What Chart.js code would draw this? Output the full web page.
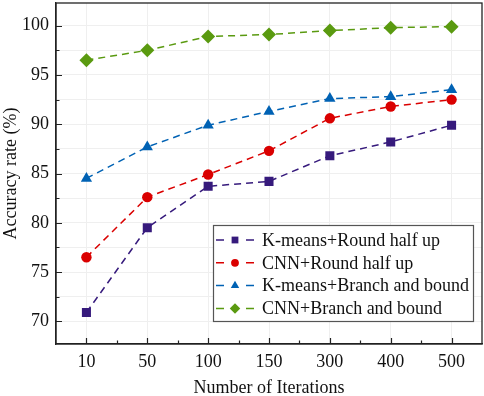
<!DOCTYPE html>
<html>
<head>
<meta charset="utf-8">
<script src="https://cdn.jsdelivr.net/npm/chart.js@4"></script>
<style>
  html, body { margin: 0; padding: 0; background: #fff; }
  #wrap { width: 484px; height: 396px; }
</style>
</head>
<body>
<div id="wrap"><canvas id="accuracyChart"></canvas></div>
<script>
// Data
const iterations = ['10', '50', '100', '150', '300', '400', '500'];
const kmeansRound = [70.9, 79.5, 83.7, 84.2, 86.8, 88.2, 89.9];
const cnnRound = [76.5, 82.6, 84.9, 87.3, 90.6, 91.8, 92.5];
const kmeansBranch = [84.5, 87.7, 89.9, 91.3, 92.6, 92.8, 93.5];
const cnnBranch = [96.5, 97.5, 98.9, 99.1, 99.5, 99.8, 99.9];
const yMajorTicks = [70, 75, 80, 85, 90, 95, 100];
const yMinorTicks = [72.5, 77.5, 82.5, 87.5, 92.5, 97.5];

const serif = 'Liberation Serif, "Times New Roman", serif';

function series(label, data, color, pointStyle, radius) {
    return {
        label: label,
        data: data,
        borderColor: color,
        backgroundColor: color,
        borderWidth: 1.5,
        borderDash: [7, 5],
        pointStyle: pointStyle,
        pointRadius: radius,
        pointHoverRadius: radius,
        pointBorderWidth: 0,
        tension: 0
    };
}

// Inward ticks, frame and boxed legend
const frameAndLegend = {
    id: 'frameAndLegend',
    afterDraw(chart) {
        const ctx = chart.ctx;
        const area = chart.chartArea;
        const x = chart.scales.x;
        const y = chart.scales.y;
        ctx.save();
        ctx.strokeStyle = '#222';
        ctx.lineWidth = 1.2;
        ctx.beginPath();
        yMajorTicks.forEach(v => {
            const py = Math.round(y.getPixelForValue(v)) + 0.5;
            ctx.moveTo(area.left, py); ctx.lineTo(area.left + 6, py);
        });
        yMinorTicks.forEach(v => {
            const py = Math.round(y.getPixelForValue(v)) + 0.5;
            ctx.moveTo(area.left, py); ctx.lineTo(area.left + 3.5, py);
        });
        iterations.forEach((c, i) => {
            const px = Math.round(x.getPixelForValue(i)) + 0.5;
            ctx.moveTo(px, area.bottom); ctx.lineTo(px, area.bottom - 6);
            if (i < iterations.length - 1) {
                const mid = Math.round((x.getPixelForValue(i) + x.getPixelForValue(i + 1)) / 2) + 0.5;
                ctx.moveTo(mid, area.bottom); ctx.lineTo(mid, area.bottom - 3.5);
            }
        });
        ctx.stroke();
        ctx.lineWidth = 1.3;
        ctx.strokeRect(area.left, area.top, area.right - area.left, area.bottom - area.top);

        // legend box
        const bx = 213, by = 225, bw = 260, bh = 96;
        ctx.fillStyle = '#fff';
        ctx.fillRect(bx, by, bw, bh);
        ctx.strokeStyle = '#555';
        ctx.lineWidth = 1.2;
        ctx.strokeRect(bx + 0.5, by + 0.5, bw, bh);
        ctx.font = '18px ' + serif;
        ctx.textBaseline = 'middle';
        chart.data.datasets.forEach((ds, i) => {
            const ry = by + 15 + i * 22.8;
            ctx.strokeStyle = ds.borderColor;
            ctx.lineWidth = 1.5;
            ctx.beginPath();
            ctx.moveTo(216, ry); ctx.lineTo(224, ry);
            ctx.moveTo(246, ry); ctx.lineTo(254, ry);
            ctx.stroke();
            ctx.fillStyle = ds.backgroundColor;
            Chart.helpers.drawPoint(ctx, { pointStyle: ds.pointStyle, radius: ds.pointRadius * 0.75, rotation: 0, borderWidth: 0 }, 235, ry);
            ctx.fillStyle = '#111';
            ctx.fillText(ds.label, 262, ry + 1);
        });
        ctx.restore();
    }
};

const ctxEl = document.getElementById('accuracyChart').getContext('2d');
const accuracyChart = new Chart(ctxEl, {
    type: 'line',
    data: {
        labels: iterations,
        datasets: [
            series('K-means+Round half up', kmeansRound, '#361a7c', 'rect', 6.4),
            series('CNN+Round half up', cnnRound, '#da0000', 'circle', 5.2),
            series('K-means+Branch and bound', kmeansBranch, '#0062b4', 'triangle', 6.5),
            series('CNN+Branch and bound', cnnBranch, '#5a9a10', 'rectRot', 7)
        ]
    },
    options: {
        responsive: true,
        maintainAspectRatio: false,
        animation: false,
        layout: { autoPadding: false, padding: { left: 0, right: 2, top: 3, bottom: 0 } },
        plugins: {
            legend: { display: false },
            tooltip: { enabled: false }
        },
        scales: {
            x: {
                type: 'category',
                offset: true,
                grid: { color: '#efefef', offset: false, drawTicks: false },
                border: { color: '#222', width: 1.3 },
                ticks: { color: '#111', font: { family: serif, size: 18 }, padding: 7 },
                title: {
                    display: true,
                    text: 'Number of Iterations',
                    color: '#111',
                    font: { family: serif, size: 18 },
                    padding: { top: 4, bottom: -3 }
                },
                afterFit: s => { s.height = 52; s.paddingLeft = 0; s.paddingRight = 0; }
            },
            y: {
                min: 67.7,
                max: 102.3,
                afterBuildTicks: s => {
                    s.ticks = yMajorTicks.concat(yMinorTicks).sort((a, b) => a - b).map(v => ({ value: v }));
                },
                grid: { color: '#efefef', drawTicks: false },
                border: { color: '#222', width: 1.3 },
                ticks: {
                    autoSkip: false,
                    color: '#111',
                    font: { family: serif, size: 18 },
                    padding: 7,
                    callback: v => (v % 5 === 0 ? v : '')
                },
                title: {
                    display: true,
                    text: 'Accuracy rate (%)',
                    color: '#111',
                    font: { family: serif, size: 18 },
                    padding: { top: 0, bottom: 0 }
                },
                afterFit: s => { s.width = 56; s.paddingTop = 0; s.paddingBottom = 0; }
            }
        }
    },
    plugins: [frameAndLegend]
});
</script>
</body>
</html>
